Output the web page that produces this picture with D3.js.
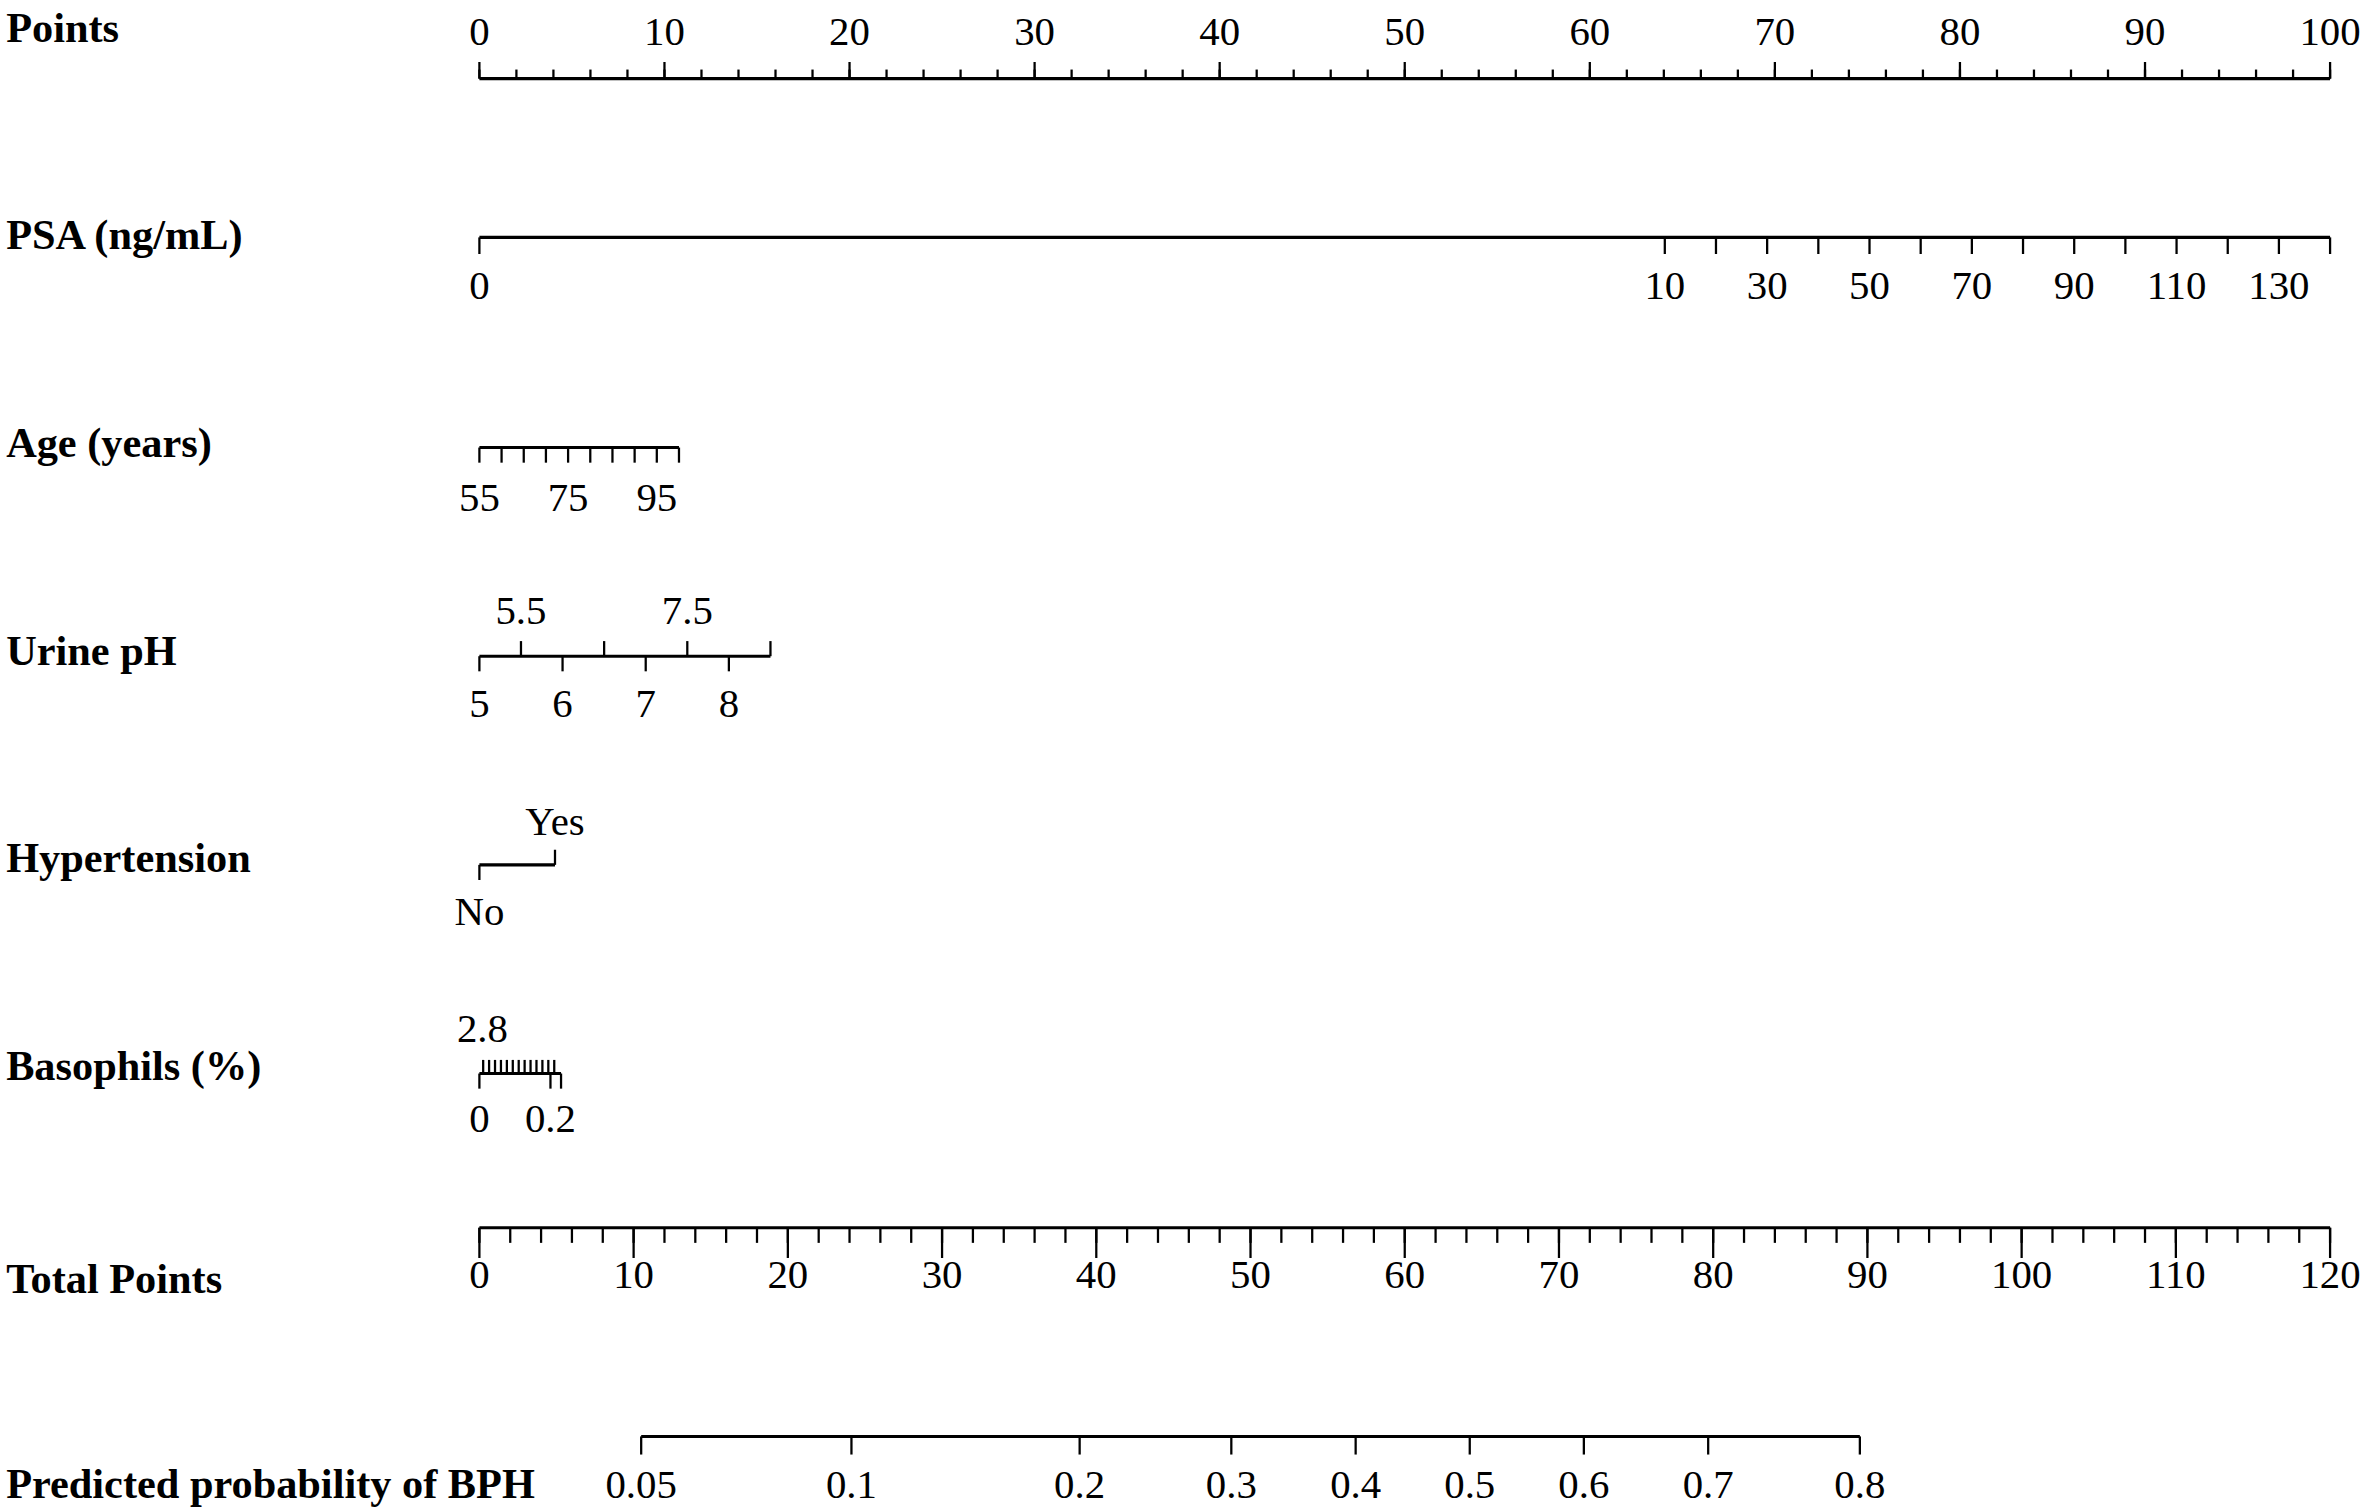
<!DOCTYPE html>
<html><head><meta charset="utf-8">
<script src="https://cdn.jsdelivr.net/npm/d3@7"></script>
<style>body{margin:0;background:#fff}text{font-family:"Liberation Serif","Times New Roman",serif;fill:#000}</style>
</head><body>
<svg id="c" width="2371" height="1512" viewBox="0 0 1568 1000"></svg>
<script>
const rowTitles = ["Points","PSA (ng/mL)","Age (years)","Urine pH","Hypertension","Basophils (%)","Total Points","Predicted probability of BPH"];
const pointsTicks = d3.range(0,101,2);
const pointsLabels = d3.range(0,101,10);
const psaTicks = [0,10,20,30,40,50,60,70,80,90,100,110,120,130,140];
const psaLabels = [0,10,30,50,70,90,110,130];
const ageTicks = [55,60,65,70,75,80,85,90,95,100];
const ageLabels = [55,75,95];
const phDown = [5,6,7,8];
const phUp = [5.5,6.5,7.5,8.5];
const phUpLabels = [5.5,7.5];
const htnLevels = ["No","Yes"];
const basoDown = [0,0.2];
const basoUp = [0.4,0.6,0.8,1.0,1.2,1.4,1.6,1.8,2.0,2.2,2.4,2.6,2.8];
const basoUpLabels = [2.8];
const totalTicks = d3.range(0,121,2);
const totalLabels = d3.range(0,121,10);
const probTicks = [0.05,0.1,0.2,0.3,0.4,0.5,0.6,0.7,0.8];

const svg = d3.select("#c");
const X0=317, X1=1541;
const pts = d3.scaleLinear().domain([0,100]).range([X0,X1]);
const psa = d3.scaleLinear().domain([0,10,140]).range([X0,1101,X1]);
const age = d3.scaleLinear().domain([55,100]).range([X0,449]);
const ph = d3.scaleLinear().domain([5,8.5]).range([X0,509.5]);
const htn = d3.scalePoint().domain(htnLevels).range([X0,367]);
const basoD = d3.scaleLinear().domain([0,0.2,0.22]).range([X0,364,371]);
const basoU = d3.scaleLinear().domain([0.4,2.8]).range([366.5,319.5]);
const total = d3.scaleLinear().domain([0,120]).range([X0,X1]);
const logit = p=>Math.log(p/(1-p));
const probX = d3.scaleLinear().domain([logit(0.05),logit(0.8)]).range([424,1230]);

const titleY=[28,165,302,440,577,714,855,991];
rowTitles.forEach((t,i)=>svg.append("text").attr("x",4).attr("y",titleY[i]).attr("font-weight","bold").attr("font-size",28).text(t));

function line(x1,x2,y){svg.append("line").attr("x1",x1).attr("x2",x2).attr("y1",y).attr("y2",y).attr("stroke","#000").attr("stroke-width",2);}
function ticks(vals,sc,y,len){svg.append("g").selectAll("line").data(vals).join("line").attr("x1",d=>sc(d)).attr("x2",d=>sc(d)).attr("y1",y).attr("y2",y+len).attr("stroke","#000").attr("stroke-width",1.5);}
function labels(vals,sc,y,fmt){svg.append("g").selectAll("text").data(vals).join("text").attr("x",d=>sc(d)).attr("y",y).attr("text-anchor","middle").attr("font-size",27).text(fmt||(d=>d));}

line(X0,X1,52);
ticks(pointsTicks,pts,52,-6);
ticks(pointsLabels,pts,52,-11);
labels(pointsLabels,pts,30);
line(X0,X1,157);
ticks(psaTicks,psa,157,11);
labels(psaLabels,psa,198);
line(X0,449,296);
ticks(ageTicks,age,296,10);
labels(ageLabels,age,338);
line(X0,509.5,434);
ticks(phDown,ph,434,10);
ticks(phUp,ph,434,-10);
labels(phDown,ph,474);
labels(phUpLabels,ph,413);
line(X0,367,572);
ticks(["No"],htn,572,10);
ticks(["Yes"],htn,572,-10);
labels(["No"],htn,612);
labels(["Yes"],htn,552);
line(X0,371,710);
ticks([0,0.2,0.22],basoD,710,10);
ticks(basoUp,basoU,710,-9);
labels(basoDown,basoD,749);
labels(basoUpLabels,d=>basoU(d)-0.5,689,d=>d.toFixed(1));
line(X0,X1,812);
ticks(totalTicks,total,812,10);
ticks(totalLabels,total,812,20);
labels(totalLabels,total,852);
line(424,1230,950);
ticks(probTicks,p=>probX(logit(p)),950,12);
labels(probTicks,p=>probX(logit(p)),991);
</script></body></html>
